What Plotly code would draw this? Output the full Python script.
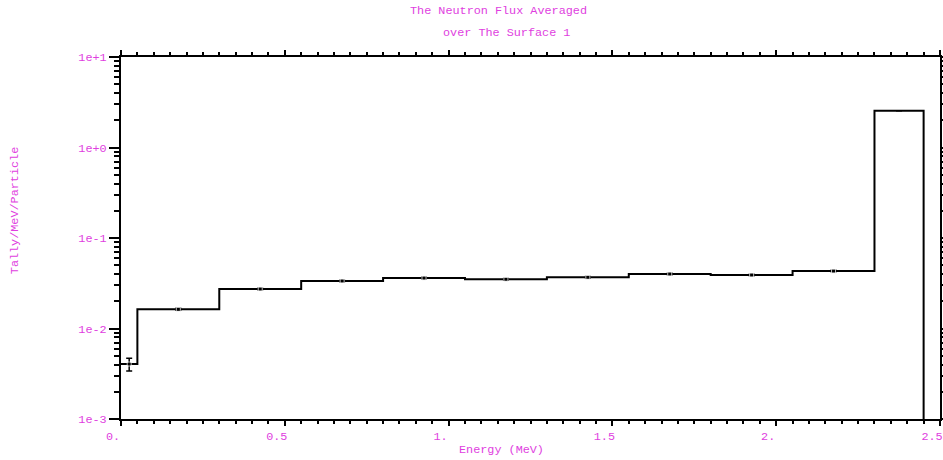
import plotly.graph_objects as go

# ---- data ----
bin_edges = [0.0, 0.05, 0.3, 0.55, 0.8, 1.05, 1.3, 1.55, 1.8, 2.05, 2.3, 2.45]
flux = [0.00405, 0.0163, 0.0273, 0.0335, 0.0361, 0.0350, 0.0368, 0.0400, 0.0390, 0.0431, 2.55]
rel_err = [0.16, 0.025, 0.02, 0.02, 0.02, 0.02, 0.02, 0.02, 0.02, 0.02, 0.0]
floor_value = 1e-3

x_major = [0.0, 0.5, 1.0, 1.5, 2.0, 2.5]
x_labels = ["0.", "0.5", "1.", "1.5", "2.", "2.5"]
y_major = [1e-3, 1e-2, 1e-1, 1e0, 1e1]
y_labels = ["1e-3", "1e-2", "1e-1", "1e+0", "1e+1"]

title_lines = ["The Neutron Flux Averaged", "over The Surface 1"]
x_title = "Energy (MeV)"
y_title = "Tally/MeV/Particle"

MAG = "#e03ee0"
FONT = "Courier New, Liberation Mono, monospace"
FS = 11.8

centers = [(bin_edges[i] + bin_edges[i + 1]) / 2 for i in range(len(flux))]
errs = [f * r for f, r in zip(flux, rel_err)]
marker_sizes = [4] * (len(flux) - 1) + [0]

step_x = bin_edges
step_y = flux + [floor_value]

y_minor = [m * 10 ** e for e in range(-3, 1) for m in range(2, 10)]
x_minor = [round(i * 0.05, 3) for i in range(0, 51)]

fig = go.Figure()
fig.add_trace(go.Scatter(
    x=step_x, y=step_y, mode="lines", line=dict(shape="hv", color="black", width=2),
    showlegend=False, hoverinfo="skip"))
fig.add_trace(go.Scatter(
    x=centers, y=flux, mode="markers",
    marker=dict(symbol="square", size=marker_sizes, color="black"),
    error_y=dict(type="data", array=errs, visible=True, color="black", thickness=1.5, width=3),
    showlegend=False))

fig.update_layout(
    width=943, height=460,
    margin=dict(l=121, r=3, t=57, b=41, autoexpand=False),
    paper_bgcolor="white", plot_bgcolor="white",
    font=dict(family=FONT, size=FS, color=MAG),
    xaxis=dict(
        range=[0, 2.5], showgrid=False, zeroline=False, automargin=False,
        showline=True, linecolor="black", linewidth=2, mirror="ticks",
        ticks="outside", ticklen=5, tickwidth=2, tickcolor="black",
        tickvals=x_major, ticktext=x_labels, ticklabelshift=-8, ticklabeloverflow="allow",
        tickfont=dict(family=FONT, size=FS, color=MAG),
        minor=dict(tickvals=x_minor, ticks="outside", ticklen=3, tickwidth=1.5, tickcolor="black"),
    ),
    yaxis=dict(
        type="log", range=[-3, 1], showgrid=False, zeroline=False, automargin=False,
        showline=True, linecolor="black", linewidth=2, mirror="ticks",
        ticks="outside", ticklen=10, tickwidth=2, tickcolor="black",
        tickvals=y_major, ticktext=y_labels,
        tickfont=dict(family=FONT, size=FS, color=MAG),
        minor=dict(tickvals=y_minor, ticks="outside", ticklen=5, tickwidth=2, tickcolor="black"),
    ),
)

fig.add_annotation(text=title_lines[0], xref="paper", yref="paper", x=0.4605, y=1.127,
                   xanchor="center", yanchor="middle", showarrow=False)
fig.add_annotation(text=title_lines[1], xref="paper", yref="paper", x=0.4703, y=1.066,
                   xanchor="center", yanchor="middle", showarrow=False)
fig.add_annotation(text=x_title, xref="paper", yref="paper", x=0.464, y=-0.0856,
                   xanchor="center", yanchor="middle", showarrow=False)
fig.add_annotation(text=y_title, xref="paper", yref="paper", x=-0.129, y=0.575,
                   xanchor="center", yanchor="middle", showarrow=False, textangle=-90)

fig.write_html("out.html")
